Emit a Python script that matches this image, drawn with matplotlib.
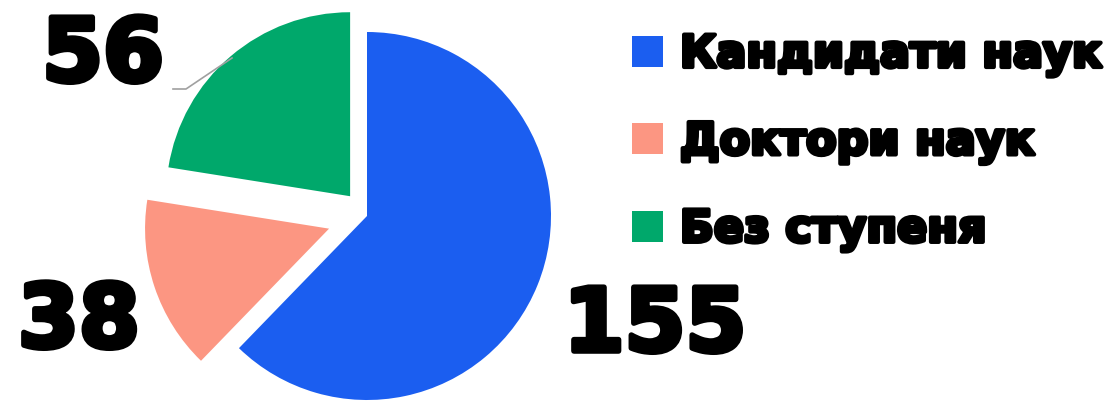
import matplotlib.pyplot as plt
import matplotlib.patheffects as pe

# data
categories = ["Кандидати наук", "Доктори наук", "Без ступеня"]
values = [155, 38, 56]
colors = ["#1B5EF0", "#FC9682", "#00A86B"]
explode = [0.0, 40, 26]

plt.rcParams['font.family'] = ['DejaVu Sans']

fig = plt.figure(figsize=(11.17, 4.02), dpi=100)
ax = fig.add_axes([0, 0, 1, 1])

wedges, _ = ax.pie(values, colors=colors, explode=explode, startangle=90,
                   counterclock=False, radius=184, center=(367, 185),
                   frame=True, wedgeprops=dict(linewidth=0))
ax.set_xlim(0, 1117)
ax.set_ylim(0, 402)
ax.set_aspect('equal')
ax.axis('off')

thick = [pe.withStroke(linewidth=4, foreground='black')]

# value labels
label_pos = [(655, 74), (79, 78), (103, 344)]
for v, (x, y) in zip(values, label_pos):
    ax.text(x, y, str(v), fontsize=63, fontweight='bold', color='black',
            ha='center', va='center', path_effects=thick)

# leader line for the green slice
ax.plot([232, 186, 173], [343, 312, 312], color='#a0a0a0', lw=1.2)

leg = ax.legend(wedges, categories, loc='upper left', bbox_to_anchor=(632 / 1117, 1 - 34 / 402),
                frameon=False, fontsize=32, handlelength=0.7, handleheight=0.7,
                handletextpad=0.38, labelspacing=1.0, borderpad=0, borderaxespad=0)
for t in leg.get_texts():
    t.set_fontweight('bold')
    t.set_path_effects([pe.withStroke(linewidth=3, foreground='black')])

fig.savefig('out.png', dpi=100)
